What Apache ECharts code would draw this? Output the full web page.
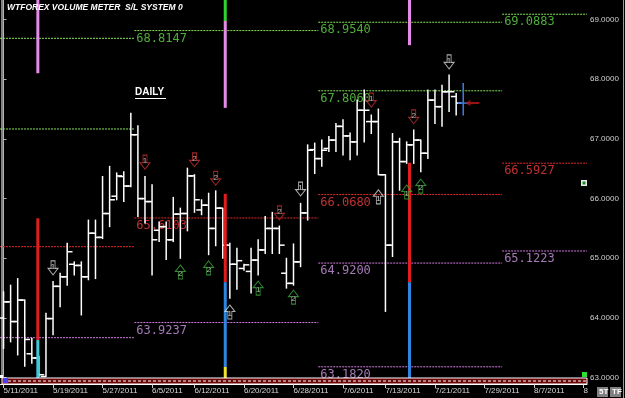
<!DOCTYPE html>
<html>
<head>
<meta charset="utf-8">
<script src="https://cdn.jsdelivr.net/npm/echarts@6/dist/echarts.min.js"></script>
<style>
html, body { margin: 0; padding: 0; background: #000; }
#chart { width: 625px; height: 398px; }
</style>
</head>
<body>
<div id="chart"></div>
<script>
// trading days (Sunday sessions included, no Saturdays)
var dates = ['5/11','5/12','5/13','5/15','5/16','5/17','5/18','5/19','5/20','5/22',
    '5/23','5/24','5/25','5/26','5/27','5/29','5/30','5/31','6/1','6/2',
    '6/3','6/5','6/6','6/7','6/8','6/9','6/10','6/12','6/13','6/14',
    '6/15','6/16','6/17','6/19','6/20','6/21','6/22','6/23','6/24','6/26',
    '6/27','6/28','6/29','6/30','7/1','7/3','7/4','7/5','7/6','7/7',
    '7/8','7/10','7/11','7/12','7/13','7/14','7/15','7/17','7/18','7/19',
    '7/20','7/21','7/22','7/24','7/25','7/26','7/27','7/28','7/29','7/31',
    '8/1','8/2','8/3','8/4','8/5','8/7','8/8','8/9','8/10','8/11',
    '8/12','8/14','8/15'];
var tickIndex = [0, 7, 14, 21, 27, 34, 41, 48, 54, 61, 68, 75, 82];
var priceTicks = [63, 64, 65, 66, 67, 68, 69];

var barOpen = [64.00,64.27,63.94,64.30,63.40,63.33,63.02,63.99,64.53,64.69,
    64.90,64.88,64.69,65.42,65.35,65.75,66.04,66.37,66.21,67.07,
    66.00,65.95,65.47,65.53,65.31,65.74,65.75,66.38,65.81,65.89,
    65.50,65.84,65.22,64.90,64.83,64.78,64.97,65.14,65.50,65.50,
    64.75,64.58,64.94,65.76,66.82,66.67,66.84,66.98,67.21,67.05,
    66.95,67.48,67.29,67.29,66.40,65.22,66.95,66.62,66.90,66.98,
    66.76,67.65,67.54,67.79,67.71,67.60];
var barHigh = [64.44,64.55,64.66,64.30,63.66,63.36,64.08,64.61,64.75,65.25,
    64.94,64.94,65.64,65.64,66.37,66.54,66.43,66.45,67.43,67.22,
    66.37,66.23,65.61,65.61,66.02,65.84,66.51,66.40,65.98,66.09,
    66.13,65.84,65.25,65.17,64.90,65.17,65.31,65.70,65.77,65.54,
    65.00,65.24,65.92,66.90,66.93,66.98,67.04,67.26,67.32,67.10,
    67.65,67.82,67.40,67.50,66.40,67.09,67.01,66.95,67.15,66.98,
    67.82,67.82,67.90,68.07,67.76,67.93];
var barLow = [63.49,63.60,63.38,63.19,63.24,63.02,63.02,63.72,64.19,64.55,
    64.72,64.05,64.64,64.66,65.33,65.53,65.98,65.95,66.20,65.70,
    65.59,64.72,65.28,64.98,65.28,65.00,65.46,65.77,65.73,65.06,
    65.21,65.00,64.33,64.48,64.80,64.42,64.72,65.08,65.08,65.08,
    64.50,64.55,64.86,65.64,66.42,66.54,66.79,66.79,66.73,66.65,
    66.73,66.95,67.09,66.40,64.11,65.03,66.14,66.59,66.59,66.45,
    66.67,67.26,67.21,67.46,67.40,67.40];
var barClose = [64.27,63.94,64.30,63.64,63.33,63.05,63.99,64.53,64.69,65.11,
    64.88,64.69,65.42,65.35,65.75,65.98,66.38,66.21,67.07,66.00,
    65.95,65.31,65.53,65.31,65.74,65.75,66.38,65.98,65.89,65.50,
    65.84,65.22,64.90,64.96,64.89,64.97,65.14,65.50,65.50,65.22,
    64.58,64.94,65.76,66.81,66.67,66.81,66.98,67.21,67.05,66.95,
    67.48,67.48,67.29,66.40,65.22,66.95,66.62,66.90,66.98,66.76,
    67.65,67.54,67.79,67.79,67.60,67.60];
var lastPrice = 67.6;

// monthly S/L levels: period edges (bar index) and levels per period
var periodEdges = [-0.5, 18.5, 44.5, 70.5, 82.5];
var levelPeriod = [0, 0, 0, 0, 1, 1, 1, 2, 2, 2, 2, 2, 3, 3, 3];
var levelPrice = [68.685, 67.166, 65.194, 63.67,
    68.8147, 65.675, 63.9237,
    68.9540, 67.8060, 66.0680, 64.9200, 63.1820,
    69.0883, 66.5927, 65.1223];
var levelKind = ['g', 'g', 'r', 'p', 'g', 'r', 'p', 'g', 'g', 'r', 'p', 'p', 'g', 'r', 'p'];
var levelLabel = ['', '', '', '', '68.8147', '65.6103', '63.9237',
    '68.9540', '67.8060', '66.0680', '64.9200', '63.1820',
    '69.0883', '66.5927', '65.1223'];

// volume meter segments: [bar position, low price, high price, kind]
var meterSegments = [
    [4.85, 68.10, 69.327, 'pink'], [4.85, 63.63, 65.67, 'red'], [4.85, 62.99, 63.63, 'cyan'],
    [31.35, 68.975, 69.327, 'green'], [31.35, 67.52, 68.975, 'pink'], [31.35, 64.60, 66.08, 'red'],
    [31.35, 63.18, 64.60, 'blue'], [31.35, 62.96, 63.18, 'yellow'],
    [57.4, 68.57, 69.327, 'pink'], [57.4, 64.60, 66.60, 'red'], [57.4, 62.99, 64.60, 'blue']
];

// signal arrows: [bar index, price, number]
var redDown = [[20, 66.61, 1], [27, 66.65, 2], [30, 66.34, 2], [39, 65.76, 2], [52, 67.65, 1], [58, 67.37, 2]];
var whiteDown = [[7, 64.84, 1], [42, 66.16, 1], [63, 68.29, 1]];
var whiteUp = [[32, 64.10, 1], [53, 66.03, 1]];
var greenUp = [[25, 64.77, 2], [29, 64.84, 2], [36, 64.50, 1], [41, 64.35, 2], [57, 66.11, 1], [59, 66.21, 2]];
var pointer = [[66.3, 67.60]];

var kindColor = { g: '#86e05a', r: '#e02828', p: '#d27ae0' };
var kindText = { g: '#4fae3a', r: '#c23030', p: '#a67ab8' };
var meterColor = { pink: '#e58ae8', red: '#e01e1e', cyan: '#3fc8d8', green: '#2fd42f', blue: '#2f86e0', yellow: '#f0e030' };

var lastIdx = barOpen.length - 1;
var ohlcData = barOpen.map(function (o, i) {
    return [i, o, barHigh[i], barLow[i], barClose[i]];
});
var levelData = levelPrice.map(function (p, i) {
    return [periodEdges[levelPeriod[i]], periodEdges[levelPeriod[i] + 1], p];
});

function renderOhlc(params, api) {
    var i = api.value(0);
    var o = api.coord([i, api.value(1)]);
    var h = api.coord([i, api.value(2)]);
    var l = api.coord([i, api.value(3)]);
    var c = api.coord([i, api.value(4)]);
    var w = api.size([1, 0])[0] * 0.75;
    var col = i === lastIdx ? '#3a7de6' : '#ffffff';
    var st = { stroke: col, lineWidth: 1.5 };
    return {
        type: 'group',
        children: [
            { type: 'line', shape: { x1: h[0], y1: h[1] - 0.5, x2: l[0], y2: l[1] + 0.5 }, style: st },
            { type: 'line', shape: { x1: o[0] - w, y1: o[1], x2: o[0], y2: o[1] }, style: st },
            { type: 'line', shape: { x1: c[0], y1: c[1], x2: c[0] + w, y2: c[1] }, style: st }
        ]
    };
}

function renderLevel(params, api) {
    var p = api.value(2);
    var a = api.coord([api.value(0), p]);
    var b = api.coord([api.value(1), p]);
    var k = levelKind[params.dataIndex];
    var children = [{
        type: 'line',
        shape: { x1: a[0], y1: a[1], x2: b[0], y2: b[1] },
        style: { stroke: kindColor[k], lineWidth: 1, lineDash: [2, 1] }
    }];
    if (levelLabel[params.dataIndex]) {
        children.push({
            type: 'text', x: a[0] + 2, y: a[1] + 2,
            style: {
                text: levelLabel[params.dataIndex], fill: kindText[k],
                font: '12px "DejaVu Sans Mono"', align: 'left', verticalAlign: 'top'
            }
        });
    }
    return { type: 'group', children: children };
}

function renderMeter(params, api) {
    var x = api.value(0);
    var lo = api.coord([x, api.value(1)]);
    var hi = api.coord([x, api.value(2)]);
    var seg = meterSegments[params.dataIndex];
    return {
        type: 'rect',
        shape: { x: lo[0] - 1.5, y: hi[1], width: 3, height: lo[1] - hi[1] },
        style: { fill: meterColor[seg[3]] }
    };
}

var downPath = 'path://M3,0L7,0L7,7L10,7L5,13L0,7L3,7Z';
var upPath = 'path://M5,0L10,6L7,6L7,13L3,13L3,6L0,6Z';

function arrowSeries(data, path, color, numColor, dy) {
    return {
        type: 'scatter',
        data: data,
        symbol: path,
        symbolSize: [10, 14],
        z: 6,
        itemStyle: { color: 'rgba(0,0,0,0)', borderColor: color, borderWidth: 1 },
        label: {
            show: true, position: 'inside', offset: [0, dy], fontSize: 8, color: numColor,
            fontFamily: 'Liberation Sans',
            formatter: function (p) { return p.value[2]; }
        }
    };
}

var option = {
    backgroundColor: '#000000',
    animation: false,
    grid: { left: -2, right: 38, top: 0, bottom: 14 },
    xAxis: {
        type: 'value',
        min: -0.5,
        max: 82.5,
        axisLine: { show: true, lineStyle: { color: '#ffffff', width: 1 } },
        axisTick: { show: true, customValues: tickIndex, length: 4, lineStyle: { color: '#cccccc' } },
        axisLabel: {
            customValues: tickIndex, align: 'left', margin: 3,
            color: '#d8d8d8', fontSize: 8, fontFamily: 'Liberation Sans',
            formatter: function (v) { return dates[v] + '/2011'; }
        },
        splitLine: { show: false }
    },
    yAxis: {
        type: 'value',
        position: 'right',
        min: 62.894,
        max: 69.327,
        axisLine: { show: true, lineStyle: { color: '#b4b4b4' } },
        axisTick: { show: true, customValues: priceTicks, length: 3, lineStyle: { color: '#b4b4b4' } },
        axisLabel: {
            customValues: priceTicks, margin: 3,
            color: '#d0d0d0', fontSize: 8, fontFamily: 'Liberation Sans',
            formatter: function (v) { return v.toFixed(4); }
        },
        splitLine: { show: false }
    },
    series: [
        {
            type: 'custom',
            renderItem: renderLevel,
            data: levelData,
            encode: { x: [0, 1], y: 2 },
            z: 2
        },
        {
            type: 'custom',
            renderItem: renderOhlc,
            data: ohlcData,
            encode: { x: 0, y: [1, 2, 3, 4] },
            z: 3,
            markLine: {
                silent: true,
                symbol: 'none',
                lineStyle: { opacity: 0 },
                data: [{ yAxis: lastPrice }],
                label: {
                    position: 'end', distance: 2,
                    formatter: function () { return lastPrice.toFixed(4); },
                    backgroundColor: '#ffffff', color: '#000000',
                    fontSize: 8, fontFamily: 'Liberation Sans', padding: [2, 3, 1, 3]
                }
            }
        },
        {
            type: 'custom',
            renderItem: renderMeter,
            data: meterSegments.map(function (s) { return [s[0], s[1], s[2]]; }),
            encode: { x: 0, y: [1, 2] },
            z: 4
        },
        arrowSeries(redDown, downPath, '#c83030', '#f0d0d0', -1),
        arrowSeries(whiteDown, downPath, '#d8d8d8', '#ffffff', -1),
        arrowSeries(whiteUp, upPath, '#d8d8d8', '#ffffff', 2),
        arrowSeries(greenUp, upPath, '#3caa3c', '#c8f0c8', 2),
        {
            type: 'scatter',
            data: pointer,
            symbol: 'path://M0,3L5,0L5,2L14,2L14,4L5,4L5,6Z',
            symbolSize: [14, 6],
            itemStyle: { color: '#c01818' },
            z: 6
        }
    ],
    graphic: [
        { type: 'line', shape: { x1: 2, y1: 0, x2: 2, y2: 378 }, style: { stroke: '#ffffff', lineWidth: 1 }, z: 10 },
        { type: 'line', shape: { x1: 623.5, y1: 0, x2: 623.5, y2: 398 }, style: { stroke: '#9a9a9a', lineWidth: 1 }, z: 10 },
        { type: 'rect', shape: { x: 2, y: 378, width: 585, height: 6 }, style: { fill: '#6a0606', stroke: '#ffffff', lineWidth: 1 }, z: 10 },
        { type: 'line', shape: { x1: 3, y1: 381, x2: 586, y2: 381 }, style: { stroke: '#ffffff', lineWidth: 1, lineDash: [3, 2] }, z: 11 },
        { type: 'rect', shape: { x: 3, y: 378, width: 5, height: 5 }, style: { fill: '#4a3cff' }, z: 12 },
        { type: 'rect', shape: { x: 0, y: 375, width: 3, height: 3 }, style: { fill: '#ffffff' }, z: 12 },
        { type: 'rect', shape: { x: 582, y: 372, width: 5, height: 5 }, style: { fill: '#2ee02e' }, z: 12 },
        { type: 'rect', shape: { x: 588, y: 385, width: 35, height: 13 }, style: { fill: '#000000' }, z: 12 },
        { type: 'rect', shape: { x: 597, y: 387, width: 11, height: 10 }, style: { fill: '#808080' }, z: 13 },
        { type: 'text', x: 599, y: 388, style: { text: '5T', fill: '#ffffff', font: 'bold 8px "Liberation Sans"' }, z: 14 },
        { type: 'rect', shape: { x: 610, y: 387, width: 11, height: 10 }, style: { fill: '#808080' }, z: 13 },
        { type: 'text', x: 612, y: 388, style: { text: 'TF', fill: '#ffffff', font: 'bold 8px "Liberation Sans"' }, z: 14 },
        { type: 'rect', shape: { x: 581, y: 180, width: 6, height: 6 }, style: { fill: '#e8e8e8' }, z: 12 },
        { type: 'rect', shape: { x: 582.5, y: 181.5, width: 3, height: 3 }, style: { fill: '#1e8a1e' }, z: 13 },
        {
            type: 'text', x: 7, y: 3, z: 14,
            style: { text: 'WTFOREX VOLUME METER  S/L SYSTEM 0', fill: '#ffffff', font: 'italic bold 8.5px "Liberation Sans Narrow", "Liberation Sans"' }
        },
        {
            type: 'text', x: 135, y: 87, z: 14,
            style: { text: 'DAILY', fill: '#ffffff', font: 'bold 10px "Liberation Sans"' }
        },
        { type: 'line', shape: { x1: 135, y1: 98.5, x2: 166, y2: 98.5 }, style: { stroke: '#ffffff', lineWidth: 1 }, z: 14 }
    ]
};

var chart = echarts.init(document.getElementById('chart'));
chart.setOption(option);
</script>
</body>
</html>
